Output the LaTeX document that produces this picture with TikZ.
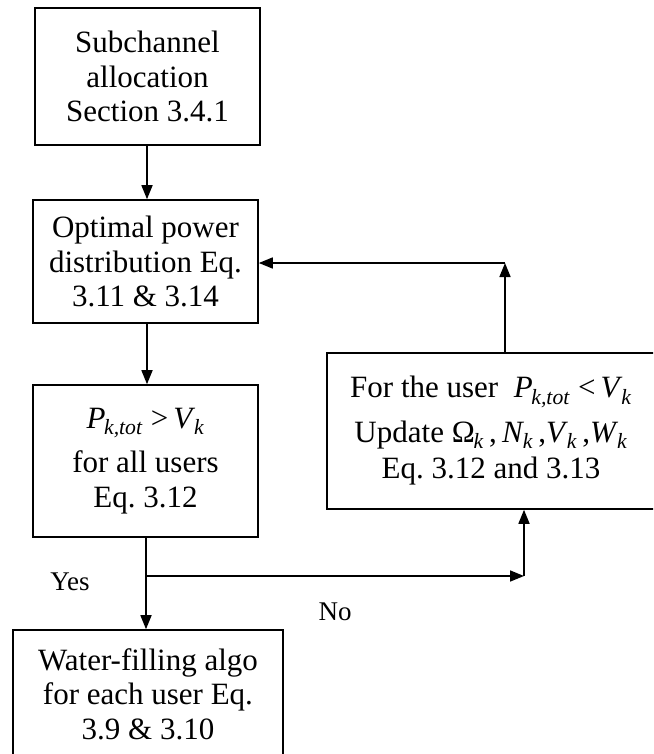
\documentclass[tikz,border=0pt]{standalone}
\usepackage{fontspec}
\setmainfont{Liberation Serif}
\usetikzlibrary{arrows.meta}
\frenchspacing
\newcommand{\vsub}[1]{\textsubscript{\kern-0.06em\textit{#1}}}
\begin{document}
\begin{tikzpicture}[x=1pt,y=-1pt,
  box/.style={draw,line width=1.6pt,inner sep=0pt,align=center,
    font=\fontsize{31}{34.5}\selectfont\frenchspacing},
  arr/.style={line width=1.6pt,-{Triangle[length=14pt,width=11pt]}},
  lbl/.style={font=\fontsize{27}{30}\selectfont,inner sep=0pt}]
\useasboundingbox (0,0) rectangle (653,754);
\clip (0,0) rectangle (653,754);
\node[box,minimum width=225pt,minimum height=137pt] (b1) at (147.5,76.5)
  {Subchannel\\allocation\\Section 3.4.1};
\node[box,minimum width=225pt,minimum height=123pt] (b2) at (145.5,261.5)
  {Optimal power\\distribution Eq.\\3.11 \& 3.14};
\node[box,minimum width=225pt,minimum height=152pt] (b3) at (145.5,461)
  {\textit{P}\vsub{k,tot}\ >\,\textit{V}\vsub{k}\\[10pt]for all users\\Eq. 3.12};
\node[box,minimum width=328pt,minimum height=156pt] (b4) at (491,431)
  {For the user\ \ \textit{P}\vsub{k,tot}\ <\,\textit{V}\vsub{k}\\[10pt]
   Update Ω\vsub{k}\,,\,\textit{N}\vsub{k}\,,\textit{V}\vsub{k}\,,\textit{W}\vsub{k}\\[2pt]
   Eq. 3.12 and 3.13};
\node[box,minimum width=270pt,minimum height=128pt] (b5) at (148,694)
  {Water-filling algo\\for each user Eq.\\3.9 \& 3.10};
\coordinate (j) at (146,576);
\coordinate (c) at (524,576);
\coordinate (t) at (505,263);
\draw[arr] (b1.south -| 147,0) -- (b2.north -| 147,0);
\draw[arr] (b2.south -| 147,0) -- (b3.north -| 147,0);
\draw[arr] (b3.south -| 146,0) -- (b5.north -| 146,0);
\draw[arr] (j) -- (c);
\draw[arr] (c) -- (c |- b4.south);
\draw[arr] (t |- b4.north) -- (t);
\draw[arr] (t) -- (t -| b2.east);
\node[lbl] (yes) at (70,582) {Yes};
\node[lbl] (no) at (335,612) {No};
\end{tikzpicture}
\end{document}
